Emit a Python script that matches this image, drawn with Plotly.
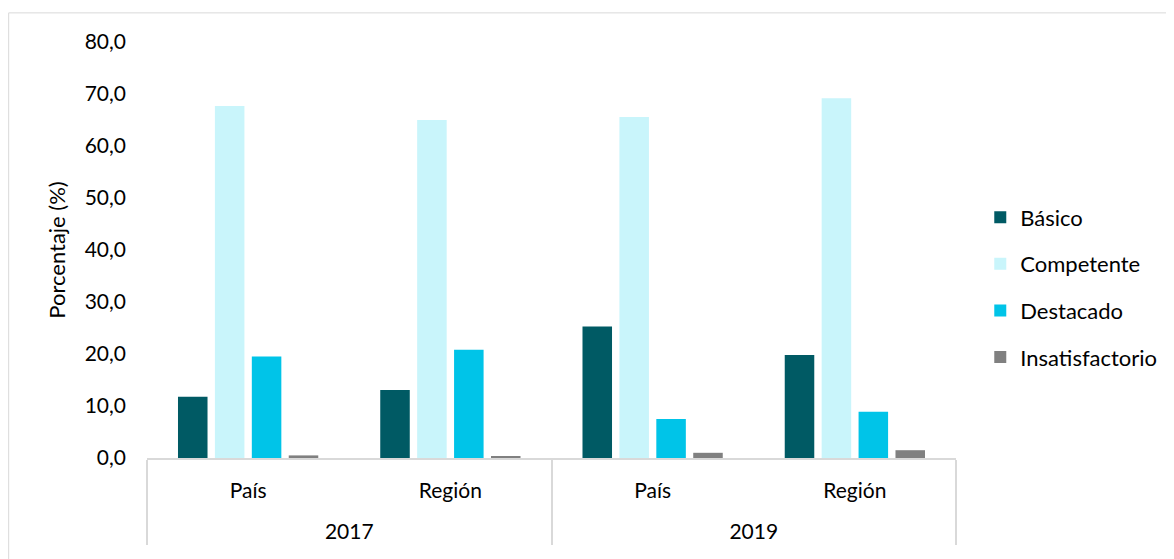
import plotly.graph_objects as go

# categories (two levels: year, scope)
years = ["2017", "2017", "2019", "2019"]
scopes = ["País", "Región", "País", "Región"]

# percentages per performance level
basico = [11.8, 13.1, 25.3, 19.8]
competente = [67.7, 65.0, 65.6, 69.2]
destacado = [19.5, 20.8, 7.5, 8.9]
insatisfactorio = [0.5, 0.35, 1.0, 1.5]

series = [
    ("Básico", basico, "#005A64"),
    ("Competente", competente, "#C9F5FB"),
    ("Destacado", destacado, "#00C4E8"),
    ("Insatisfactorio", insatisfactorio, "#808080"),
]

font_family = "Lato, Open Sans, sans-serif"

# an empty second line under the inner labels pushes the year row lower, like Excel does
scope_labels = [s + "<br>&nbsp;" for s in scopes]

fig = go.Figure()
for name, vals, color in series:
    fig.add_trace(go.Bar(
        x=[years, scope_labels], y=vals, name=name, legendgroup=name,
        marker=dict(color=color, line=dict(width=0)),
    ))

# page body adds an 8px offset, so the figure is 8px smaller and margins compensate
fig.update_layout(
    width=1166, height=551,
    barmode="group", bargap=0.27, bargroupgap=0.2,
    plot_bgcolor="white", paper_bgcolor="white",
    separators=",.",
    font=dict(family=font_family, size=21, color="#000000"),
    margin=dict(l=139, r=214, t=34, b=101),
    legend=dict(
        x=1.03, y=0.41, xanchor="left", yanchor="middle",
        font=dict(size=22), tracegroupgap=15, itemwidth=30,
    ),
    shapes=[dict(
        type="rect", xref="paper", yref="paper",
        x0=-0.171, x1=1.3, y0=-0.3, y1=1.07,
        line=dict(color="#D9D9D9", width=1), layer="below",
    )],
)

fig.update_yaxes(
    range=[0, 80], dtick=10, tickformat=".1f", automargin=False,
    showgrid=False, zeroline=False, showline=False,
    ticklabelstandoff=20,
    title=dict(text="Porcentaje (%)", font=dict(size=22), standoff=12),
)
fig.update_xaxes(
    type="multicategory", automargin=False,
    showline=True, linecolor="#D9D9D9", linewidth=2,
    showgrid=False, showdividers=True, dividercolor="#D9D9D9", dividerwidth=1.5,
    ticks="", tickfont=dict(size=21), ticklabelstandoff=13,
)

fig.write_html("out.html")
